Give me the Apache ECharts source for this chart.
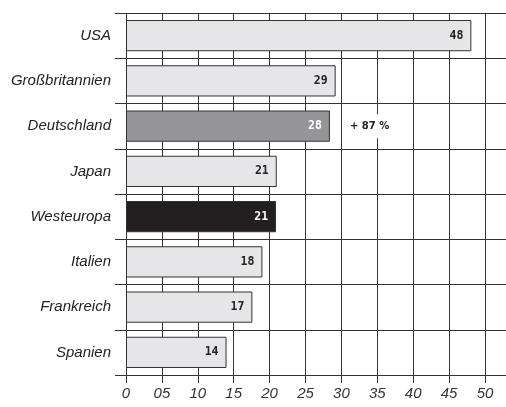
<!DOCTYPE html>
<html><head><meta charset="utf-8">
<script src="https://cdn.jsdelivr.net/npm/echarts@6/dist/echarts.min.js"></script>
<style>html,body{margin:0;padding:0;background:#fff}#c{width:506px;height:407px}</style>
</head><body><div id="c"></div>
<script>
const categories = ['USA','Großbritannien','Deutschland','Japan','Westeuropa','Italien','Frankreich','Spanien'];
// bar lengths as drawn in the picture
const values = [48.1,29.2,28.4,21,20.9,19,17.6,14];
// printed value labels
const valueLabels = ['48','29','28','21','21','18','17','14'];
const fills = ['#e6e6e8','#e6e6e8','#959598','#e6e6e8','#231f20','#e6e6e8','#e6e6e8','#e6e6e8'];
const labelColors = ['#222','#222','#fff','#222','#fff','#222','#222','#222'];
const notes = ['','','+ 87 %','','','','',''];
const tickLabels = ['0','05','10','15','20','25','30','35','40','45','50'];

const chart = echarts.init(document.getElementById('c'), null, {renderer:'canvas'});
const lineCol = '#333';
chart.setOption({
  animation:false,
  grid:[
    {left:115, right:0, top:13, bottom:32},
    {left:126, right:21, top:13, bottom:32}
  ],
  xAxis:[
    {gridIndex:0, type:'value', min:0, max:1, show:false},
    {gridIndex:1, type:'value', min:0, max:50, interval:5,
      axisLine:{show:false},
      axisTick:{show:true, length:8, lineStyle:{color:lineCol, width:1}},
      splitLine:{show:true, lineStyle:{color:lineCol, width:1}},
      axisLabel:{margin:11, color:'#333', fontSize:15, fontStyle:'italic', fontFamily:'Liberation Sans',
        formatter:(v)=>tickLabels[Math.round(v/5)]}
    }
  ],
  yAxis:[
    {gridIndex:0, type:'category', data:categories, inverse:true,
      axisLine:{show:false}, axisTick:{show:false}, axisLabel:{show:false},
      splitLine:{show:true, lineStyle:{color:lineCol, width:1}}},
    {gridIndex:1, type:'category', data:categories, inverse:true,
      axisLine:{show:false}, axisTick:{show:false}, splitLine:{show:false},
      axisLabel:{margin:15, color:'#222', fontSize:15, fontStyle:'italic', fontFamily:'Liberation Sans'}}
  ],
  series:[
    {type:'bar', xAxisIndex:1, yAxisIndex:1, barCategoryGap:'31%',
      data: values.map((v,i)=>({value:v,
        itemStyle:{color:fills[i], borderColor:'#333', borderWidth:1},
        label:{color:labelColors[i]}})),
      label:{show:true, position:'insideRight', distance:8, fontFamily:'DejaVu Sans Mono', fontWeight:'bold', fontSize:11.5,
        formatter:(p)=>valueLabels[p.dataIndex]}
    },
    {type:'bar', xAxisIndex:1, yAxisIndex:1, barGap:'-100%', barCategoryGap:'31%',
      itemStyle:{color:'rgba(0,0,0,0)'}, silent:true,
      data: values.map((v,i)=>({value:v,
        label: notes[i] ? {show:true, position:'right', distance:17, color:'#222', fontFamily:'DejaVu Sans', fontWeight:'bold', fontSize:10,
          backgroundColor:'#fff', padding:[7,3], formatter:notes[i]} : {show:false}})),
      label:{show:false}
    }
  ]
});
</script></body></html>
